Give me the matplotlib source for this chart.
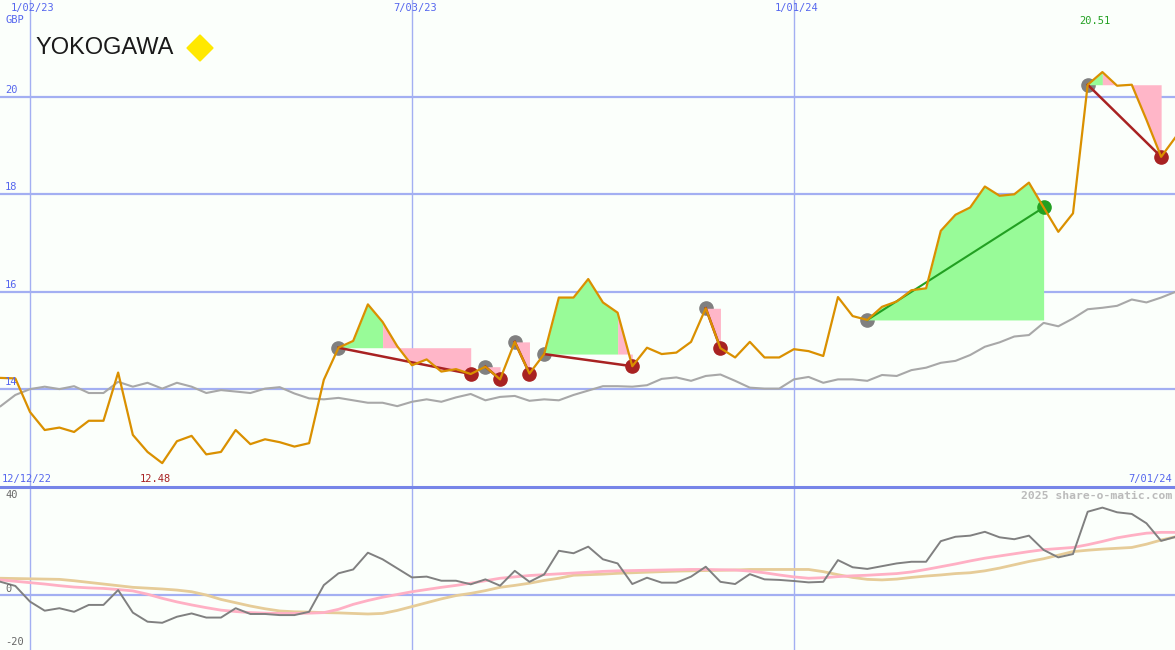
import numpy as np
import pandas as pd
import matplotlib
matplotlib.use("Agg")
import matplotlib.pyplot as plt
import matplotlib.dates as mdates
from matplotlib.patches import Polygon
from matplotlib.lines import Line2D

# weekly closes, GBP (Mondays from 19 Dec 2022)
price = [14.23, 14.22, 13.53, 13.16, 13.21, 13.12, 13.35, 13.35, 14.34, 13.06,
         12.71, 12.48, 12.93, 13.04, 12.66, 12.71, 13.16, 12.87, 12.97, 12.91,
         12.82, 12.89, 14.19, 14.85, 14.99, 15.74, 15.38, 14.88, 14.49, 14.61,
         14.36, 14.41, 14.31, 14.46, 14.20, 14.97, 14.32, 14.72, 15.88, 15.88,
         16.26, 15.78, 15.57, 14.47, 14.85, 14.72, 14.75, 14.97, 15.66, 14.84,
         14.65, 14.97, 14.65, 14.65, 14.82, 14.78, 14.68, 15.89, 15.50, 15.42,
         15.69, 15.80, 16.03, 16.07, 17.25, 17.58, 17.73, 18.16, 17.97, 18.00,
         18.24, 17.73, 17.23, 17.61, 20.25, 20.51, 20.23, 20.25, 19.53, 18.77,
         19.18]

avg = [13.65, 13.88, 14.00, 14.05, 14.00, 14.06, 13.92, 13.92, 14.15, 14.05,
       14.13, 14.01, 14.13, 14.05, 13.92, 13.98, 13.95, 13.92, 14.01, 14.04,
       13.91, 13.81, 13.79, 13.82, 13.77, 13.72, 13.72, 13.65, 13.74, 13.79,
       13.74, 13.83, 13.90, 13.77, 13.84, 13.86, 13.76, 13.79, 13.77, 13.88,
       13.97, 14.06, 14.06, 14.05, 14.08, 14.21, 14.24, 14.17, 14.27, 14.30,
       14.17, 14.03, 14.01, 14.01, 14.20, 14.25, 14.13, 14.20, 14.20, 14.17,
       14.29, 14.27, 14.39, 14.44, 14.54, 14.58, 14.70, 14.87, 14.96, 15.08,
       15.11, 15.36, 15.29, 15.45, 15.64, 15.67, 15.71, 15.84, 15.78, 15.88,
       16.00]

momentum = [4.8, 3.3, -2.4, -5.7, -4.8, -6.1, -3.6, -3.6, 1.8, -6.4,
            -9.7, -10.1, -7.9, -6.7, -8.2, -8.2, -4.8, -6.9, -6.9, -7.3,
            -7.3, -6.1, 3.6, 7.9, 9.3, 15.4, 13.0, 9.7, 6.4, 6.7,
            5.2, 5.2, 3.9, 5.7, 3.4, 8.8, 4.8, 7.5, 16.1, 15.2,
            17.6, 13.0, 11.5, 4.0, 6.3, 4.5, 4.5, 6.7, 10.3, 4.8,
            4.0, 7.6, 5.7, 5.5, 5.1, 4.6, 4.8, 12.7, 10.1, 9.5,
            10.5, 11.5, 12.1, 12.1, 19.6, 21.2, 21.6, 23.0, 21.0, 20.3,
            21.6, 16.4, 13.7, 14.9, 30.3, 31.8, 30.1, 29.5, 26.1, 19.7,
            21.2]

signal_fast = [5.5, 5.0, 4.5, 4.0, 3.4, 2.9, 2.6, 2.4, 2.0, 1.5,
               0.3, -1.2, -2.5, -3.6, -4.6, -5.5, -6.0, -6.4, -6.6, -6.7,
               -6.7, -6.6, -6.4, -5.2, -3.4, -2.0, -0.8, 0.2, 1.2, 2.0,
               2.8, 3.5, 4.3, 5.2, 6.1, 6.6, 7.1, 7.4, 7.7, 8.0,
               8.3, 8.6, 8.8, 8.9, 9.0, 9.1, 9.2, 9.3, 9.3, 9.2,
               9.1, 8.7, 8.1, 7.3, 6.6, 6.1, 6.3, 6.7, 7.0, 7.2,
               7.5, 7.8, 8.4, 9.3, 10.3, 11.3, 12.4, 13.4, 14.2, 15.0,
               15.8, 16.5, 16.9, 17.3, 18.3, 19.5, 20.8, 21.7, 22.5, 22.8,
               22.8]

signal_slow = [6.1, 6.0, 5.9, 5.8, 5.7, 5.2, 4.6, 4.0, 3.4, 2.8,
               2.5, 2.2, 1.8, 1.2, 0.0, -1.6, -2.8, -4.0, -5.0, -5.8,
               -6.1, -6.2, -6.4, -6.5, -6.7, -6.9, -6.7, -5.6, -4.2, -2.8,
               -1.4, -0.2, 0.6, 1.6, 2.8, 3.5, 4.3, 5.3, 6.1, 7.2,
               7.4, 7.6, 7.9, 8.1, 8.3, 8.5, 8.7, 8.8, 8.9, 9.0,
               9.1, 9.3, 9.3, 9.3, 9.3, 9.3, 8.5, 7.4, 6.4, 5.7,
               5.5, 5.8, 6.4, 6.9, 7.3, 7.8, 8.1, 8.8, 9.8, 11.0,
               12.2, 13.2, 14.5, 15.8, 16.3, 16.7, 17.0, 17.3, 18.5, 20.0,
               21.2]

# trades: buy week, week the signal turned, sell week
trade_entry = [23, 33, 35, 37, 48, 59, 74]
trade_turn = [26, 33, 35, 42, 48, 71, 75]
trade_exit = [32, 34, 36, 43, 49, 71, 79]

grid_dates = ["2023-01-02", "2023-07-03", "2024-01-01"]
grid_labels = ["1/02/23", "7/03/23", "1/01/24"]
price_ticks = [14, 16, 18, 20]

dates = pd.date_range("2022-12-19", periods=len(price), freq="7D")
price = np.array(price)

W, H = 1175, 650
BG = "#fbfffb"
GRID = "#a3aff2"
BLUE = "#5566ee"
ORANGE = "#da9000"
GREEN_FILL = "#98fb98"
PINK_FILL = "#ffb6c8"
DARK_RED = "#a82222"


def px(x, y):
    return x / W, 1 - y / H


fig = plt.figure(figsize=(W / 100, H / 100), dpi=100, facecolor=BG)
ax1 = fig.add_axes([0, 163 / H, 1, 487 / H])
ax2 = fig.add_axes([0, 0, 1, 163 / H])

x0 = mdates.date2num(dates[0]) - 0.3
x1 = x0 + W / (14.69 / 7)
for ax in (ax1, ax2):
    ax.set_facecolor(BG)
    ax.set_xlim(x0, x1)
    ax.set_xticks([])
    ax.set_yticks([])
    for s in ax.spines.values():
        s.set_visible(False)
    for d in grid_dates:
        ax.axvline(pd.Timestamp(d), color=GRID, lw=1.0, zorder=1)

ax1.set_ylim(11.99, 21.99)
ax2.set_ylim(-20, 39.3)

for v in price_ticks:
    ax1.axhline(v, color=GRID, lw=1.6, zorder=1)
ax2.axhline(0, color=GRID, lw=1.6, zorder=1)

# top panel
ax1.plot(dates, avg, color="#a8a8a8", lw=1.5, zorder=2)

for e, t, x in zip(trade_entry, trade_turn, trade_exit):
    level = price[e]
    ax1.plot(dates[e], level, "o", color="#808080", ms=9.5, zorder=3)
    if t > e:
        ax1.fill_between(dates[e:t + 1], price[e:t + 1], level,
                         color=GREEN_FILL, lw=0, zorder=4)
    if x > t:
        ax1.fill_between(dates[t:x + 1], price[t:x + 1], level,
                         color=PINK_FILL, lw=0, zorder=4)
    win = price[x] > level
    c = "#22a022" if win else DARK_RED
    ax1.plot([dates[e], dates[x]], [level, price[x]], color=c,
             lw=1.5 if win else 1.8, zorder=5)
    ax1.plot(dates[x], price[x], "o", color=c, ms=9.5, zorder=5)

ax1.plot(dates, price, color=ORANGE, lw=1.6, zorder=6)

# bottom panel
ax2.plot(dates, signal_slow, color="#e6cc98", lw=2.0, zorder=2)
ax2.plot(dates, signal_fast, color="#ffb0c4", lw=2.0, zorder=3)
ax2.plot(dates, momentum, color="#808080", lw=1.4, zorder=4)

# divider between the panels
fig.add_artist(Line2D([0, 1], [1 - 487 / H] * 2, color="#7685e8", lw=2.2,
                      transform=fig.transFigure, zorder=10))

# text
mono = dict(family="DejaVu Sans Mono", fontsize=7.5)
for d, lab in zip(grid_dates, grid_labels):
    gx = (mdates.date2num(pd.Timestamp(d)) - x0) / (x1 - x0) * W
    fig.text(*px(gx + 3, 8), lab, color=BLUE, ha="center", va="center", **mono)
fig.text(*px(5, 20), "GBP", color=BLUE, ha="left", va="center", **mono)
for v in price_ticks:
    yp = 97 + (20 - v) * 48.67
    fig.text(*px(5, yp - 7), str(v), color=BLUE, ha="left", va="center", **mono)

fig.text(*px(2, 479), "12/12/22", color=BLUE, ha="left", va="center", **mono)
fig.text(*px(1172, 479), "7/01/24", color=BLUE, ha="right", va="center", **mono)
fig.text(*px(155, 479), f"{price.min():.2f}", color=DARK_RED,
         ha="center", va="center", **mono)
fig.text(*px(1095, 21), f"{price.max():.2f}", color="#22a022",
         ha="center", va="center", **mono)
fig.text(*px(1172, 496), "2025 share-o-matic.com", color="#bbbbbb",
         ha="right", va="center", family="DejaVu Sans Mono", fontsize=8.2,
         fontweight="bold")
for lab, yp in [("40", 495), ("0", 589), ("-20", 642)]:
    fig.text(*px(5, yp), lab, color="#666666", ha="left", va="center", **mono)

fig.text(*px(35, 48), "YOKOGAWA", color="#1a1a1a", ha="left", va="center",
         family="Liberation Sans", fontsize=17, fontstretch="condensed")
diamond = Polygon([px(200, 35), px(213, 48), px(200, 61), px(187, 48)],
                  closed=True, transform=fig.transFigure, color="#ffe800")
fig.patches.append(diamond)

fig.savefig("out.png", dpi=100, facecolor=BG)
